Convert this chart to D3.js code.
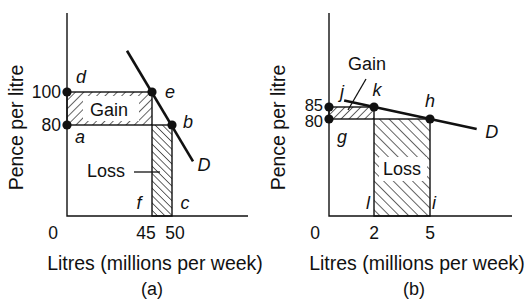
<!DOCTYPE html>
<html>
<head>
<meta charset="utf-8">
<script src="https://cdn.jsdelivr.net/npm/d3@7/dist/d3.min.js"></script>
<style>
  html, body { margin: 0; padding: 0; background: #fff; }
  svg { display: block; }
  text { font-family: 'Liberation Sans', Arial, Helvetica, sans-serif; fill: #111; }
  .lbl { font-style: italic; }
</style>
</head>
<body>
<div id="chart"></div>
<script>
/* ---- Data ---- */
const panelNames = ['(a)', '(b)'];
const yTitle = 'Pence per litre';
const xTitle = 'Litres (millions per week)';

// panel (a)
const priceTicksA = [80, 100];
const qtyTicksA = [45, 50];
const demandA = [[38.75, 125], [55.25, 58]];
const pointsA = [[0, 100, 'd'], [45, 100, 'e'], [50, 80, 'b'], [0, 80, 'a']];
const gainA = [0, 45, 80, 100];     // q0, q1, p0, p1
const lossA = [45, 50, 0, 80];
const footLabelsA = [[45, 'f'], [50, 'c']];

// panel (b)
const priceTicksB = [80, 85];
const qtyTicksB = [2, 5];
const demandB = [[0.4, 87.7], [7.5, 75.8]];
const pointsB = [[0, 85, null], [2, 85, 'k'], [5, 80, 'h'], [0, 80, 'g']];
const gainB = [0, 2, 80, 85];
const lossB = [2, 5, 0, 80];
const footLabelsB = [[2, 'l'], [5, 'i']];

const W = 528, H = 301;
const FS = 18;      // letters and captions
const FS_TICK = 17.5;
const FS_TITLE = 19.5;

const svg = d3.select('#chart').append('svg')
  .attr('width', W).attr('height', H)
  .style('background', '#fff');

/* ---- Hatch patterns ---- */
const defs = svg.append('defs');
function hatch(id, step, angle) {
  const p = defs.append('pattern')
    .attr('id', id)
    .attr('patternUnits', 'userSpaceOnUse')
    .attr('width', step).attr('height', step)
    .attr('patternTransform', `rotate(${angle})`);
  p.append('line')
    .attr('x1', 0).attr('y1', 0).attr('x2', 0).attr('y2', step)
    .attr('stroke', '#111').attr('stroke-width', 1.3);
}
hatch('fwdA', 5.9, 45);
hatch('backA', 5.2, -45);
hatch('fwdB', 5.6, 45);
hatch('backB', 6.8, -45);

/* ---- One panel ---- */
function drawPanel(cfg) {
  const f = cfg.frame;
  const x = d3.scaleLinear().domain(cfg.qtyTicks).range(cfg.xRange);
  const y = d3.scaleLinear().domain(cfg.priceTicks).range(cfg.yRange);
  // quantity 0 / price 0 sit on the axes (broken-axis diagram)
  const qx = q => q === 0 ? f.left : x(q);
  const py = p => p === 0 ? f.bottom : y(p);

  const g = svg.append('g');

  // hatched areas
  const [gq0, gq1, gp0, gp1] = cfg.gain;
  g.append('rect')
    .attr('x', qx(gq0)).attr('y', py(gp1))
    .attr('width', qx(gq1) - qx(gq0)).attr('height', py(gp0) - py(gp1))
    .attr('fill', `url(#${cfg.gainPat})`)
    .attr('stroke', '#111').attr('stroke-width', 1.4);
  const [lq0, lq1, lp0, lp1] = cfg.loss;
  g.append('rect')
    .attr('x', qx(lq0)).attr('y', py(lp1))
    .attr('width', qx(lq1) - qx(lq0)).attr('height', py(lp0) - py(lp1))
    .attr('fill', `url(#${cfg.lossPat})`)
    .attr('stroke', '#111').attr('stroke-width', 1.4);

  // white boxes behind the area captions
  cfg.boxes.forEach(b => {
    g.append('rect').attr('x', b[0]).attr('y', b[1]).attr('width', b[2]).attr('height', b[3])
      .attr('fill', '#fff');
  });

  // axes
  g.append('path')
    .attr('d', `M${f.left},${f.top}V${f.bottom}H${f.right}`)
    .attr('fill', 'none').attr('stroke', '#111').attr('stroke-width', 1.4);

  // demand line
  g.append('path')
    .datum(cfg.demand)
    .attr('d', d3.line().x(d => x(d[0])).y(d => y(d[1])))
    .attr('fill', 'none').attr('stroke', '#111').attr('stroke-width', 2.6);

  // points
  g.selectAll('circle.pt').data(cfg.points).join('circle')
    .attr('class', 'pt')
    .attr('cx', d => qx(d[0])).attr('cy', d => py(d[1]))
    .attr('r', 4.6).attr('fill', '#111');

  // price tick labels
  g.selectAll('text.yt').data(cfg.priceTicks).join('text')
    .attr('class', 'yt')
    .attr('x', f.left - 6).attr('y', (d, i) => y(d) + cfg.yTickDy[i]).attr('dy', '0.36em')
    .attr('text-anchor', 'end').attr('font-size', cfg.yTickFs || FS_TICK)
    .text(d => d);

  // quantity tick labels
  g.selectAll('text.xt').data(cfg.qtyTicks).join('text')
    .attr('class', 'xt')
    .attr('x', (d, i) => x(d) + cfg.xTickDx[i]).attr('y', f.bottom + 23)
    .attr('text-anchor', 'middle').attr('font-size', FS_TICK)
    .text(d => d);
  g.append('text')
    .attr('x', f.left - 14).attr('y', f.bottom + 23)
    .attr('text-anchor', 'middle').attr('font-size', FS_TICK)
    .text('0');

  // axis titles
  g.append('text')
    .attr('transform', `translate(${cfg.yTitleX},${(f.top + f.bottom) / 2 + 13}) rotate(-90)`)
    .attr('text-anchor', 'middle').attr('font-size', FS_TITLE)
    .text(yTitle);
  g.append('text')
    .attr('x', cfg.xTitleX).attr('y', 270)
    .attr('text-anchor', 'middle').attr('font-size', FS_TITLE)
    .text(xTitle);
  g.append('text')
    .attr('x', cfg.nameX).attr('y', 295)
    .attr('text-anchor', 'middle').attr('font-size', FS)
    .text(cfg.name);

  // point letters
  cfg.points.forEach((d, i) => {
    if (!d[2]) return;
    const o = cfg.letterOff[i];
    g.append('text').attr('class', 'lbl')
      .attr('x', qx(d[0]) + o[0]).attr('y', py(d[1]) + o[1]).attr('dy', '0.36em')
      .attr('text-anchor', 'middle').attr('font-size', FS)
      .text(d[2]);
  });
  cfg.foot.forEach((d, i) => {
    g.append('text').attr('class', 'lbl')
      .attr('x', x(d[0]) + cfg.footDx[i]).attr('y', f.bottom - 13).attr('dy', '0.36em')
      .attr('text-anchor', 'middle').attr('font-size', FS)
      .text(d[1]);
  });
  const last = cfg.demand[cfg.demand.length - 1];
  g.append('text').attr('class', 'lbl')
    .attr('x', x(last[0]) + cfg.dOff[0]).attr('y', y(last[1]) + cfg.dOff[1]).attr('dy', '0.36em')
    .attr('text-anchor', 'middle').attr('font-size', FS)
    .text('D');

  // captions
  cfg.captions.forEach(c => {
    g.append('text')
      .attr('class', c.italic ? 'lbl' : null)
      .attr('x', c.x).attr('y', c.y).attr('dy', '0.36em')
      .attr('text-anchor', 'middle').attr('font-size', FS)
      .text(c.text);
    if (c.leader) {
      g.append('line')
        .attr('x1', c.leader[0]).attr('y1', c.leader[1])
        .attr('x2', c.leader[2]).attr('y2', c.leader[3])
        .attr('stroke', '#111').attr('stroke-width', 1.3);
    }
  });
}

drawPanel({
  name: panelNames[0], nameX: 152, xTitleX: 155, yTitleX: 23,
  frame: { left: 67, right: 248, top: 13, bottom: 216 },
  qtyTicks: qtyTicksA, priceTicks: priceTicksA,
  xRange: [152, 172], yRange: [125, 92],
  xTickDx: [-6, 3], yTickDy: [0, 0],
  demand: demandA, points: pointsA, gain: gainA, loss: lossA,
  gainPat: 'fwdA', lossPat: 'backA',
  boxes: [[83, 96, 56, 25]],
  letterOff: [[14, -15], [18, 0], [16, -3], [13, 12]],
  foot: footLabelsA, footDx: [-13, 13], dOff: [11, 3],
  captions: [
    { text: 'Gain', x: 109, y: 110 },
    { text: 'Loss', x: 106, y: 171, leader: [134, 172, 160, 172] }
  ]
});

drawPanel({
  name: panelNames[1], nameX: 414, xTitleX: 417, yTitleX: 285,
  frame: { left: 329, right: 512, top: 13, bottom: 216 },
  qtyTicks: qtyTicksB, priceTicks: priceTicksB,
  xRange: [374, 430], yRange: [119, 107],
  xTickDx: [0, 0], yTickDy: [2, -2], yTickFs: 16.5,
  demand: demandB, points: pointsB, gain: gainB, loss: lossB,
  gainPat: 'fwdB', lossPat: 'backB',
  boxes: [[379, 157, 48, 24]],
  letterOff: [[0, 0], [3, -17], [0, -18], [13, 18]],
  foot: footLabelsB, footDx: [-6, 4], dOff: [15, 2],
  captions: [
    { text: 'Gain', x: 367, y: 64, leader: [366, 79, 348, 110] },
    { text: 'Loss', x: 402, y: 169 },
    { text: 'j', x: 342, y: 92, italic: true }
  ]
});
</script>
</body>
</html>
